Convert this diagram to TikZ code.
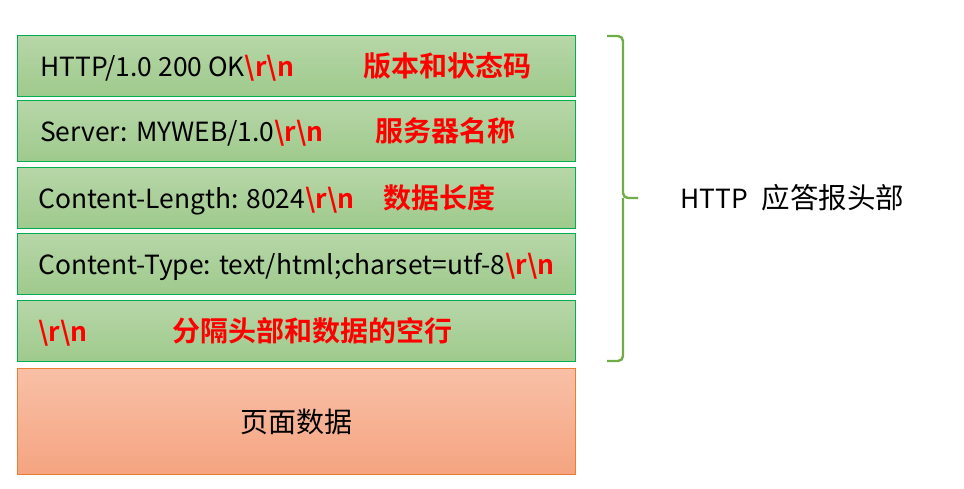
\documentclass[tikz,border=0pt]{standalone}
\usepackage{fontspec}
\setmainfont{Noto Sans CJK SC}[BoldFont={Noto Sans CJK SC Bold}]
\definecolor{gtop}{RGB}{183,214,168}
\definecolor{gbot}{RGB}{158,202,140}
\definecolor{gline}{RGB}{0,176,80}
\definecolor{otop}{RGB}{248,192,167}
\definecolor{obot}{RGB}{245,164,128}
\definecolor{oline}{RGB}{237,125,49}
\definecolor{brc}{RGB}{112,173,71}
\newcommand\myrn{{\bfseries\color{red}\textbackslash r\textbackslash n}}
\begin{document}
\begin{tikzpicture}[x=1pt,y=-1pt,
  gbox/.style={draw=gline,line width=1.2pt,top color=gtop,bottom color=gbot,minimum width=558pt,minimum height=61pt,anchor=north west,inner sep=0pt},
  obox/.style={draw=oline,line width=1.2pt,top color=otop,bottom color=obot,minimum width=558pt,minimum height=106pt,anchor=north west,inner sep=0pt},
  txt/.style={inner sep=0pt,anchor=base west,font=\fontsize{26.4pt}{30pt}\selectfont},
  rtxt/.style={txt,text=red,font=\fontsize{28pt}{32pt}\selectfont\bfseries}]
\useasboundingbox (0,0) rectangle (964,488);
\node[gbox] (r1) at (17,35) {};
\node[gbox] (r2) at (17,100) {};
\node[gbox] (r3) at (17,167) {};
\node[gbox] (r4) at (17,233) {};
\node[gbox] (r5) at (17,300) {};
\node[obox] (r6) at (17,368) {};
\node[txt] (t1) at ([xshift=23pt,yshift=-10pt]r1.west) {HTTP/1.0 200 OK\myrn};
\node[rtxt] (c1) at ([xshift=346pt,yshift=-10pt]r1.west) {版本和状态码};
\node[txt] (t2) at ([xshift=23pt,yshift=-10pt]r2.west) {Server: MYWEB/1.0\myrn};
\node[rtxt] (c2) at ([xshift=358pt,yshift=-10pt]r2.west) {服务器名称};
\node[txt] (t3) at ([xshift=21pt,yshift=-10pt]r3.west) {Content-Length: 8024\myrn};
\node[rtxt] (c3) at ([xshift=366pt,yshift=-10pt]r3.west) {数据长度};
\node[txt] (t4) at ([xshift=21pt,yshift=-10pt]r4.west) {Content-Type: text/html;charset=utf-8\myrn};
\node[txt] (t5) at ([xshift=21pt,yshift=-10pt]r5.west) {\myrn};
\node[rtxt] (c5) at ([xshift=155pt,yshift=-10pt]r5.west) {分隔头部和数据的空行};
\node[inner sep=0pt,font=\fontsize{28pt}{32pt}\selectfont] (t6) at (r6.center) {页面数据};
\coordinate (bt) at (607,36);
\coordinate (bb) at (607,361);
\coordinate (tip) at (638,198);
\draw[brc,line width=2.4pt,rounded corners=5pt] (bt) -| (623,198) -- (tip);
\draw[brc,line width=2.4pt,rounded corners=5pt] (bb) -| (623,198);
\node[inner sep=0pt,anchor=base west] (lbl) at (680,208) {{\fontsize{26.4pt}{30pt}\selectfont HTTP}\hspace{14pt}{\fontsize{28.5pt}{32pt}\selectfont 应答报头部}};
\end{tikzpicture}
\end{document}
